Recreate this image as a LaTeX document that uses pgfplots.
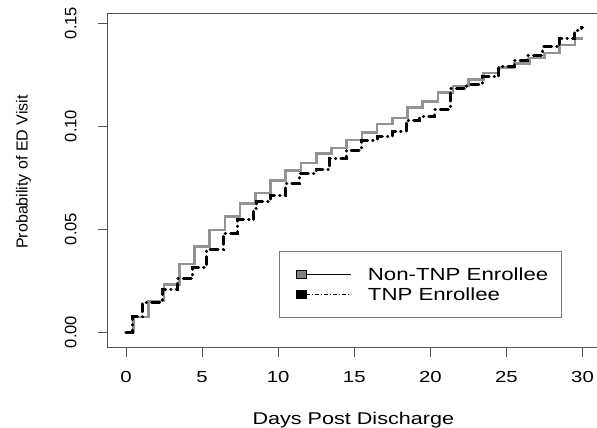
\documentclass[border=0pt]{standalone}
\usepackage{pgfplots}
\pgfplotsset{compat=1.18}
\usetikzlibrary{calc}
\usepackage{fontspec}
\setmainfont{Liberation Sans}[FakeStretch=1.27]
\newfontfamily\rotfont{Liberation Sans}
\definecolor{axisgray}{HTML}{555555}
\definecolor{curvegray}{HTML}{939393}
\definecolor{boxgray}{HTML}{7A7A7A}

\begin{document}
\begin{tikzpicture}
\begin{axis}[
    name=ax,
    scale only axis, width=489.3bp, height=334bp,
    xmin=-1.2, xmax=30.95, ymin=-0.00728, ymax=0.1549,
    axis line style={draw=none},
    xtick={0,5,...,30}, ytick={0,0.05,0.10,0.15},
    yticklabels={0.00,0.05,0.10,0.15},
    xtick pos=bottom, ytick pos=left,
    tick align=outside, major tick length=10bp,
    tick style={axisgray, line width=0.8bp},
    /pgf/number format/assume math mode=true,
    xticklabel style={font=\fontsize{16bp}{18bp}\selectfont, anchor=north, inner sep=0pt},
    xticklabel shift=14bp,
    yticklabel style={font=\rotfont\fontsize{16.5bp}{18bp}\selectfont, rotate=90, anchor=south, inner sep=0pt},
    yticklabel shift=21bp,
    xlabel={Days Post Discharge},
    xlabel style={font=\fontsize{17bp}{19bp}\selectfont, at={(axis description cs:0.502,-0.2335)}, anchor=base},
    ylabel={Probability of ED Visit},
    ylabel style={font=\rotfont\fontsize{16bp}{18bp}\selectfont, at={(axis description cs:-0.1635,0.524)}, anchor=base, rotate=0},
    legend style={at={(axis description cs:0.350,0.187)}, anchor=west,
        draw=boxgray, line width=0.8bp, inner xsep=11bp, inner ysep=13.5bp,
        font=\fontsize{17.5bp}{19bp}\selectfont, row sep=2bp},
    legend cell align=left,
]
\addplot[const plot, curvegray, line width=2.6bp,
    legend image code/.code={
        \path[draw=none, fill=none] (0bp,-0.1bp) rectangle (75.6bp,0.1bp);
        \draw[solid, fill=gray, draw=black, line width=0.6bp] (5.7bp,-4bp) rectangle (15.7bp,4bp);
        \draw[solid, black, line width=0.7bp] (15.7bp,0bp) -- (60.7bp,0bp);
    }] coordinates {
(0,0) (0.5,0.0073) (1.5,0.0150) (2.5,0.0230) (3.5,0.0330) (4.5,0.0414)
(5.5,0.0495) (6.5,0.0560) (7.5,0.0625) (8.5,0.0675) (9.5,0.0735)
(10.5,0.0785) (11.5,0.0820) (12.5,0.0867) (13.5,0.0893) (14.5,0.0932)
(15.5,0.0970) (16.5,0.1010) (17.5,0.1040) (18.5,0.1090) (19.5,0.1120)
(20.5,0.1162) (21.5,0.1195) (22.5,0.1225) (23.5,0.1258) (24.5,0.1285)
(25.5,0.1305) (26.5,0.1330) (27.5,0.1355) (28.5,0.1393) (29.5,0.1425)
(30,0.1425)};
\addlegendentry{Non-TNP Enrollee}
\addplot[const plot, black, line width=3bp, line cap=round,
    dash pattern=on 8bp off 5bp on 0.5bp off 5bp,
    legend image code/.code={
        \path[draw=none, fill=none] (0bp,-0.1bp) rectangle (75.6bp,0.1bp);
        \draw[solid, fill=black, draw=black, line width=0.6bp] (5.7bp,-4bp) rectangle (15.7bp,4bp);
        \draw[black, line width=0.7bp, line cap=butt, dash pattern=on 4bp off 2bp on 1bp off 2bp] (15.7bp,0bp) -- (60.7bp,0bp);
    }] coordinates {
(0,0) (0.4,0.0073) (1.1,0.0145) (2.4,0.0205) (3.4,0.0260) (4.4,0.0315)
(5.3,0.0400) (6.4,0.0480) (7.3,0.0545) (8.4,0.0600) (8.6,0.0633)
(9.5,0.0665) (10.5,0.0722) (11.4,0.0770) (12.5,0.0790) (13.4,0.0843)
(14.5,0.0883) (15.5,0.0932) (16.5,0.0950) (17.5,0.0975) (18.4,0.1029)
(19.3,0.1045) (20.3,0.1078) (21.3,0.1180) (22.4,0.1200) (23.4,0.1240)
(24.5,0.1290) (25.5,0.1320) (26.4,0.1345) (27.4,0.1385) (28.5,0.1425)
(29.5,0.1465) (29.9,0.1480) (30,0.1480)};
\addlegendentry{TNP Enrollee}
\end{axis}
\draw[axisgray, line width=0.8bp] (ax.south east) -- (ax.south west) -- (ax.north west) -- (ax.north east);
\pgfresetboundingbox
\useasboundingbox ($(ax.south west)+(-107.7bp,-81bp)$) rectangle ($(ax.north east)+(0bp,13bp)$);
\end{tikzpicture}
\end{document}
